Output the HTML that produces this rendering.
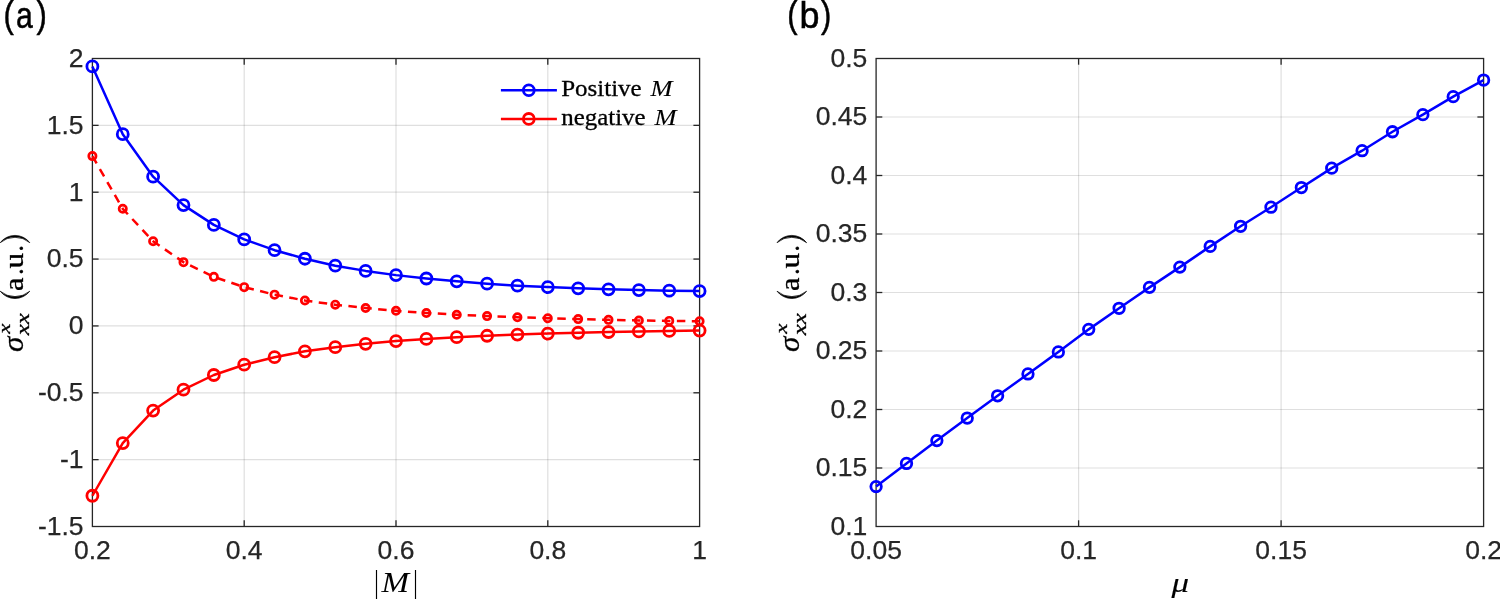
<!DOCTYPE html>
<html><head><meta charset="utf-8"><title>figure</title>
<style>html,body{margin:0;padding:0;background:#fff;}body{width:1500px;height:599px;overflow:hidden;}svg{display:block}.tk{font-family:"Liberation Sans",sans-serif;font-size:26.5px;fill:#262626;stroke:#262626;stroke-width:0.25px;}.pl{font-family:"Liberation Sans",sans-serif;font-size:36px;fill:#000;stroke:#000;stroke-width:0.5px;}.tx{font-family:"Liberation Serif",serif;fill:#000;stroke:#000;stroke-width:0.3px;}.lg{font-size:23.8px;}</style></head><body>
<svg width="1500" height="599" viewBox="0 0 1500 599">
<defs><filter id="noaa" x="0" y="0" width="1500" height="599" filterUnits="userSpaceOnUse"><feOffset dx="0" dy="0"/></filter></defs>
<g filter="url(#noaa)">
<line x1="244.20" y1="58.5" x2="244.20" y2="526.5" stroke="rgba(38,38,38,0.15)" stroke-width="1.2"/>
<line x1="396.00" y1="58.5" x2="396.00" y2="526.5" stroke="rgba(38,38,38,0.15)" stroke-width="1.2"/>
<line x1="547.80" y1="58.5" x2="547.80" y2="526.5" stroke="rgba(38,38,38,0.15)" stroke-width="1.2"/>
<line x1="92.4" y1="459.64" x2="699.6" y2="459.64" stroke="rgba(38,38,38,0.15)" stroke-width="1.2"/>
<line x1="92.4" y1="392.79" x2="699.6" y2="392.79" stroke="rgba(38,38,38,0.15)" stroke-width="1.2"/>
<line x1="92.4" y1="325.93" x2="699.6" y2="325.93" stroke="rgba(38,38,38,0.15)" stroke-width="1.2"/>
<line x1="92.4" y1="259.07" x2="699.6" y2="259.07" stroke="rgba(38,38,38,0.15)" stroke-width="1.2"/>
<line x1="92.4" y1="192.21" x2="699.6" y2="192.21" stroke="rgba(38,38,38,0.15)" stroke-width="1.2"/>
<line x1="92.4" y1="125.36" x2="699.6" y2="125.36" stroke="rgba(38,38,38,0.15)" stroke-width="1.2"/>
<rect x="92.4" y="58.5" width="607.20" height="468.0" fill="none" stroke="#262626" stroke-width="1.3"/>
<line x1="244.20" y1="526.5" x2="244.20" y2="520.3" stroke="#262626" stroke-width="1.3"/>
<line x1="244.20" y1="58.5" x2="244.20" y2="64.7" stroke="#262626" stroke-width="1.3"/>
<line x1="396.00" y1="526.5" x2="396.00" y2="520.3" stroke="#262626" stroke-width="1.3"/>
<line x1="396.00" y1="58.5" x2="396.00" y2="64.7" stroke="#262626" stroke-width="1.3"/>
<line x1="547.80" y1="526.5" x2="547.80" y2="520.3" stroke="#262626" stroke-width="1.3"/>
<line x1="547.80" y1="58.5" x2="547.80" y2="64.7" stroke="#262626" stroke-width="1.3"/>
<line x1="92.4" y1="459.64" x2="98.60000000000001" y2="459.64" stroke="#262626" stroke-width="1.3"/>
<line x1="699.6" y1="459.64" x2="693.4" y2="459.64" stroke="#262626" stroke-width="1.3"/>
<line x1="92.4" y1="392.79" x2="98.60000000000001" y2="392.79" stroke="#262626" stroke-width="1.3"/>
<line x1="699.6" y1="392.79" x2="693.4" y2="392.79" stroke="#262626" stroke-width="1.3"/>
<line x1="92.4" y1="325.93" x2="98.60000000000001" y2="325.93" stroke="#262626" stroke-width="1.3"/>
<line x1="699.6" y1="325.93" x2="693.4" y2="325.93" stroke="#262626" stroke-width="1.3"/>
<line x1="92.4" y1="259.07" x2="98.60000000000001" y2="259.07" stroke="#262626" stroke-width="1.3"/>
<line x1="699.6" y1="259.07" x2="693.4" y2="259.07" stroke="#262626" stroke-width="1.3"/>
<line x1="92.4" y1="192.21" x2="98.60000000000001" y2="192.21" stroke="#262626" stroke-width="1.3"/>
<line x1="699.6" y1="192.21" x2="693.4" y2="192.21" stroke="#262626" stroke-width="1.3"/>
<line x1="92.4" y1="125.36" x2="98.60000000000001" y2="125.36" stroke="#262626" stroke-width="1.3"/>
<line x1="699.6" y1="125.36" x2="693.4" y2="125.36" stroke="#262626" stroke-width="1.3"/>
<text class="tk" x="92.40" y="559.0" text-anchor="middle">0.2</text>
<text class="tk" x="244.20" y="559.0" text-anchor="middle">0.4</text>
<text class="tk" x="396.00" y="559.0" text-anchor="middle">0.6</text>
<text class="tk" x="547.80" y="559.0" text-anchor="middle">0.8</text>
<text class="tk" x="699.60" y="559.0" text-anchor="middle">1</text>
<text class="tk" x="83.60" y="534.90" text-anchor="end">-1.5</text>
<text class="tk" x="83.60" y="468.04" text-anchor="end">-1</text>
<text class="tk" x="83.60" y="401.19" text-anchor="end">-0.5</text>
<text class="tk" x="83.60" y="334.33" text-anchor="end">0</text>
<text class="tk" x="83.60" y="267.47" text-anchor="end">0.5</text>
<text class="tk" x="83.60" y="200.61" text-anchor="end">1</text>
<text class="tk" x="83.60" y="133.76" text-anchor="end">1.5</text>
<text class="tk" x="83.60" y="66.90" text-anchor="end">2</text>
<polyline points="92.40,66.39 122.76,134.18 153.12,176.70 183.48,205.09 213.84,224.89 244.20,239.39 274.56,250.19 304.92,258.74 335.28,265.69 365.64,270.89 396.00,275.12 426.36,278.50 456.72,281.31 487.08,283.70 517.44,285.69 547.80,287.10 578.16,288.30 608.52,289.29 638.88,290.09 669.24,290.69 699.60,291.10" fill="none" stroke="#0000ff" stroke-width="2.5" stroke-linejoin="round"/>
<circle cx="92.40" cy="66.39" r="5.5" fill="none" stroke="#0000ff" stroke-width="2.8"/>
<circle cx="122.76" cy="134.18" r="5.5" fill="none" stroke="#0000ff" stroke-width="2.8"/>
<circle cx="153.12" cy="176.70" r="5.5" fill="none" stroke="#0000ff" stroke-width="2.8"/>
<circle cx="183.48" cy="205.09" r="5.5" fill="none" stroke="#0000ff" stroke-width="2.8"/>
<circle cx="213.84" cy="224.89" r="5.5" fill="none" stroke="#0000ff" stroke-width="2.8"/>
<circle cx="244.20" cy="239.39" r="5.5" fill="none" stroke="#0000ff" stroke-width="2.8"/>
<circle cx="274.56" cy="250.19" r="5.5" fill="none" stroke="#0000ff" stroke-width="2.8"/>
<circle cx="304.92" cy="258.74" r="5.5" fill="none" stroke="#0000ff" stroke-width="2.8"/>
<circle cx="335.28" cy="265.69" r="5.5" fill="none" stroke="#0000ff" stroke-width="2.8"/>
<circle cx="365.64" cy="270.89" r="5.5" fill="none" stroke="#0000ff" stroke-width="2.8"/>
<circle cx="396.00" cy="275.12" r="5.5" fill="none" stroke="#0000ff" stroke-width="2.8"/>
<circle cx="426.36" cy="278.50" r="5.5" fill="none" stroke="#0000ff" stroke-width="2.8"/>
<circle cx="456.72" cy="281.31" r="5.5" fill="none" stroke="#0000ff" stroke-width="2.8"/>
<circle cx="487.08" cy="283.70" r="5.5" fill="none" stroke="#0000ff" stroke-width="2.8"/>
<circle cx="517.44" cy="285.69" r="5.5" fill="none" stroke="#0000ff" stroke-width="2.8"/>
<circle cx="547.80" cy="287.10" r="5.5" fill="none" stroke="#0000ff" stroke-width="2.8"/>
<circle cx="578.16" cy="288.30" r="5.5" fill="none" stroke="#0000ff" stroke-width="2.8"/>
<circle cx="608.52" cy="289.29" r="5.5" fill="none" stroke="#0000ff" stroke-width="2.8"/>
<circle cx="638.88" cy="290.09" r="5.5" fill="none" stroke="#0000ff" stroke-width="2.8"/>
<circle cx="669.24" cy="290.69" r="5.5" fill="none" stroke="#0000ff" stroke-width="2.8"/>
<circle cx="699.60" cy="291.10" r="5.5" fill="none" stroke="#0000ff" stroke-width="2.8"/>
<polyline points="92.40,156.11 122.76,208.79 153.12,241.29 183.48,262.15 213.84,276.86 244.20,287.15 274.56,294.64 304.92,300.52 335.28,304.67 365.64,308.01 396.00,310.82 426.36,312.96 456.72,314.70 487.08,316.10 517.44,317.26 547.80,318.27 578.16,319.11 608.52,319.84 638.88,320.45 669.24,320.91 699.60,321.30" fill="none" stroke="#ff0000" stroke-width="2.5" stroke-linejoin="round" stroke-dasharray="8.5 6.45"/>
<circle cx="92.40" cy="156.11" r="3.65" fill="none" stroke="#ff0000" stroke-width="2.7"/>
<circle cx="122.76" cy="208.79" r="3.65" fill="none" stroke="#ff0000" stroke-width="2.7"/>
<circle cx="153.12" cy="241.29" r="3.65" fill="none" stroke="#ff0000" stroke-width="2.7"/>
<circle cx="183.48" cy="262.15" r="3.65" fill="none" stroke="#ff0000" stroke-width="2.7"/>
<circle cx="213.84" cy="276.86" r="3.65" fill="none" stroke="#ff0000" stroke-width="2.7"/>
<circle cx="244.20" cy="287.15" r="3.65" fill="none" stroke="#ff0000" stroke-width="2.7"/>
<circle cx="274.56" cy="294.64" r="3.65" fill="none" stroke="#ff0000" stroke-width="2.7"/>
<circle cx="304.92" cy="300.52" r="3.65" fill="none" stroke="#ff0000" stroke-width="2.7"/>
<circle cx="335.28" cy="304.67" r="3.65" fill="none" stroke="#ff0000" stroke-width="2.7"/>
<circle cx="365.64" cy="308.01" r="3.65" fill="none" stroke="#ff0000" stroke-width="2.7"/>
<circle cx="396.00" cy="310.82" r="3.65" fill="none" stroke="#ff0000" stroke-width="2.7"/>
<circle cx="426.36" cy="312.96" r="3.65" fill="none" stroke="#ff0000" stroke-width="2.7"/>
<circle cx="456.72" cy="314.70" r="3.65" fill="none" stroke="#ff0000" stroke-width="2.7"/>
<circle cx="487.08" cy="316.10" r="3.65" fill="none" stroke="#ff0000" stroke-width="2.7"/>
<circle cx="517.44" cy="317.26" r="3.65" fill="none" stroke="#ff0000" stroke-width="2.7"/>
<circle cx="547.80" cy="318.27" r="3.65" fill="none" stroke="#ff0000" stroke-width="2.7"/>
<circle cx="578.16" cy="319.11" r="3.65" fill="none" stroke="#ff0000" stroke-width="2.7"/>
<circle cx="608.52" cy="319.84" r="3.65" fill="none" stroke="#ff0000" stroke-width="2.7"/>
<circle cx="638.88" cy="320.45" r="3.65" fill="none" stroke="#ff0000" stroke-width="2.7"/>
<circle cx="669.24" cy="320.91" r="3.65" fill="none" stroke="#ff0000" stroke-width="2.7"/>
<circle cx="699.60" cy="321.30" r="3.65" fill="none" stroke="#ff0000" stroke-width="2.7"/>
<polyline points="92.40,495.75 122.76,443.06 153.12,410.57 183.48,389.71 213.84,375.00 244.20,364.71 274.56,357.22 304.92,351.33 335.28,347.19 365.64,343.85 396.00,341.04 426.36,338.90 456.72,337.16 487.08,335.76 517.44,334.59 547.80,333.59 578.16,332.75 608.52,332.01 638.88,331.41 669.24,330.94 699.60,330.56" fill="none" stroke="#ff0000" stroke-width="2.5" stroke-linejoin="round"/>
<circle cx="92.40" cy="495.75" r="5.5" fill="none" stroke="#ff0000" stroke-width="2.8"/>
<circle cx="122.76" cy="443.06" r="5.5" fill="none" stroke="#ff0000" stroke-width="2.8"/>
<circle cx="153.12" cy="410.57" r="5.5" fill="none" stroke="#ff0000" stroke-width="2.8"/>
<circle cx="183.48" cy="389.71" r="5.5" fill="none" stroke="#ff0000" stroke-width="2.8"/>
<circle cx="213.84" cy="375.00" r="5.5" fill="none" stroke="#ff0000" stroke-width="2.8"/>
<circle cx="244.20" cy="364.71" r="5.5" fill="none" stroke="#ff0000" stroke-width="2.8"/>
<circle cx="274.56" cy="357.22" r="5.5" fill="none" stroke="#ff0000" stroke-width="2.8"/>
<circle cx="304.92" cy="351.33" r="5.5" fill="none" stroke="#ff0000" stroke-width="2.8"/>
<circle cx="335.28" cy="347.19" r="5.5" fill="none" stroke="#ff0000" stroke-width="2.8"/>
<circle cx="365.64" cy="343.85" r="5.5" fill="none" stroke="#ff0000" stroke-width="2.8"/>
<circle cx="396.00" cy="341.04" r="5.5" fill="none" stroke="#ff0000" stroke-width="2.8"/>
<circle cx="426.36" cy="338.90" r="5.5" fill="none" stroke="#ff0000" stroke-width="2.8"/>
<circle cx="456.72" cy="337.16" r="5.5" fill="none" stroke="#ff0000" stroke-width="2.8"/>
<circle cx="487.08" cy="335.76" r="5.5" fill="none" stroke="#ff0000" stroke-width="2.8"/>
<circle cx="517.44" cy="334.59" r="5.5" fill="none" stroke="#ff0000" stroke-width="2.8"/>
<circle cx="547.80" cy="333.59" r="5.5" fill="none" stroke="#ff0000" stroke-width="2.8"/>
<circle cx="578.16" cy="332.75" r="5.5" fill="none" stroke="#ff0000" stroke-width="2.8"/>
<circle cx="608.52" cy="332.01" r="5.5" fill="none" stroke="#ff0000" stroke-width="2.8"/>
<circle cx="638.88" cy="331.41" r="5.5" fill="none" stroke="#ff0000" stroke-width="2.8"/>
<circle cx="669.24" cy="330.94" r="5.5" fill="none" stroke="#ff0000" stroke-width="2.8"/>
<circle cx="699.60" cy="330.56" r="5.5" fill="none" stroke="#ff0000" stroke-width="2.8"/>
<line x1="500.9" y1="90.2" x2="556.9" y2="90.2" stroke="#0000ff" stroke-width="2.5"/>
<circle cx="528.8" cy="90.2" r="5.4" fill="none" stroke="#0000ff" stroke-width="2.8"/>
<line x1="500.9" y1="118.9" x2="556.9" y2="118.9" stroke="#ff0000" stroke-width="2.5"/>
<circle cx="528.8" cy="118.9" r="5.4" fill="none" stroke="#ff0000" stroke-width="2.8"/>
<text class="tx lg" x="561.2" y="95.5" textLength="80.5" lengthAdjust="spacingAndGlyphs">Positive</text>
<text class="tx lg" x="650.6" y="95.5" font-style="italic" textLength="22.0" lengthAdjust="spacingAndGlyphs" style="stroke-width:0.1px">M</text>
<text class="tx lg" x="561.2" y="124.5" textLength="84.4" lengthAdjust="spacingAndGlyphs">negative</text>
<text class="tx lg" x="654.4" y="124.5" font-style="italic" textLength="22.0" lengthAdjust="spacingAndGlyphs" style="stroke-width:0.1px">M</text>
<line x1="1078.60" y1="58.5" x2="1078.60" y2="526.5" stroke="rgba(38,38,38,0.15)" stroke-width="1.2"/>
<line x1="1281.10" y1="58.5" x2="1281.10" y2="526.5" stroke="rgba(38,38,38,0.15)" stroke-width="1.2"/>
<line x1="876.1" y1="468.00" x2="1483.6" y2="468.00" stroke="rgba(38,38,38,0.15)" stroke-width="1.2"/>
<line x1="876.1" y1="409.50" x2="1483.6" y2="409.50" stroke="rgba(38,38,38,0.15)" stroke-width="1.2"/>
<line x1="876.1" y1="351.00" x2="1483.6" y2="351.00" stroke="rgba(38,38,38,0.15)" stroke-width="1.2"/>
<line x1="876.1" y1="292.50" x2="1483.6" y2="292.50" stroke="rgba(38,38,38,0.15)" stroke-width="1.2"/>
<line x1="876.1" y1="234.00" x2="1483.6" y2="234.00" stroke="rgba(38,38,38,0.15)" stroke-width="1.2"/>
<line x1="876.1" y1="175.50" x2="1483.6" y2="175.50" stroke="rgba(38,38,38,0.15)" stroke-width="1.2"/>
<line x1="876.1" y1="117.00" x2="1483.6" y2="117.00" stroke="rgba(38,38,38,0.15)" stroke-width="1.2"/>
<rect x="876.1" y="58.5" width="607.50" height="468.0" fill="none" stroke="#262626" stroke-width="1.3"/>
<line x1="1078.60" y1="526.5" x2="1078.60" y2="520.3" stroke="#262626" stroke-width="1.3"/>
<line x1="1078.60" y1="58.5" x2="1078.60" y2="64.7" stroke="#262626" stroke-width="1.3"/>
<line x1="1281.10" y1="526.5" x2="1281.10" y2="520.3" stroke="#262626" stroke-width="1.3"/>
<line x1="1281.10" y1="58.5" x2="1281.10" y2="64.7" stroke="#262626" stroke-width="1.3"/>
<line x1="876.1" y1="468.00" x2="882.3000000000001" y2="468.00" stroke="#262626" stroke-width="1.3"/>
<line x1="1483.6" y1="468.00" x2="1477.3999999999999" y2="468.00" stroke="#262626" stroke-width="1.3"/>
<line x1="876.1" y1="409.50" x2="882.3000000000001" y2="409.50" stroke="#262626" stroke-width="1.3"/>
<line x1="1483.6" y1="409.50" x2="1477.3999999999999" y2="409.50" stroke="#262626" stroke-width="1.3"/>
<line x1="876.1" y1="351.00" x2="882.3000000000001" y2="351.00" stroke="#262626" stroke-width="1.3"/>
<line x1="1483.6" y1="351.00" x2="1477.3999999999999" y2="351.00" stroke="#262626" stroke-width="1.3"/>
<line x1="876.1" y1="292.50" x2="882.3000000000001" y2="292.50" stroke="#262626" stroke-width="1.3"/>
<line x1="1483.6" y1="292.50" x2="1477.3999999999999" y2="292.50" stroke="#262626" stroke-width="1.3"/>
<line x1="876.1" y1="234.00" x2="882.3000000000001" y2="234.00" stroke="#262626" stroke-width="1.3"/>
<line x1="1483.6" y1="234.00" x2="1477.3999999999999" y2="234.00" stroke="#262626" stroke-width="1.3"/>
<line x1="876.1" y1="175.50" x2="882.3000000000001" y2="175.50" stroke="#262626" stroke-width="1.3"/>
<line x1="1483.6" y1="175.50" x2="1477.3999999999999" y2="175.50" stroke="#262626" stroke-width="1.3"/>
<line x1="876.1" y1="117.00" x2="882.3000000000001" y2="117.00" stroke="#262626" stroke-width="1.3"/>
<line x1="1483.6" y1="117.00" x2="1477.3999999999999" y2="117.00" stroke="#262626" stroke-width="1.3"/>
<text class="tk" x="876.10" y="559.0" text-anchor="middle">0.05</text>
<text class="tk" x="1078.60" y="559.0" text-anchor="middle">0.1</text>
<text class="tk" x="1281.10" y="559.0" text-anchor="middle">0.15</text>
<text class="tk" x="1483.60" y="559.0" text-anchor="middle">0.2</text>
<text class="tk" x="867.30" y="534.90" text-anchor="end">0.1</text>
<text class="tk" x="867.30" y="476.40" text-anchor="end">0.15</text>
<text class="tk" x="867.30" y="417.90" text-anchor="end">0.2</text>
<text class="tk" x="867.30" y="359.40" text-anchor="end">0.25</text>
<text class="tk" x="867.30" y="300.90" text-anchor="end">0.3</text>
<text class="tk" x="867.30" y="242.40" text-anchor="end">0.35</text>
<text class="tk" x="867.30" y="183.90" text-anchor="end">0.4</text>
<text class="tk" x="867.30" y="125.40" text-anchor="end">0.45</text>
<text class="tk" x="867.30" y="66.90" text-anchor="end">0.5</text>
<polyline points="876.10,486.60 906.48,463.44 936.85,440.62 967.23,418.04 997.60,395.81 1027.97,373.93 1058.35,351.94 1088.72,329.36 1119.10,308.30 1149.47,287.35 1179.85,267.11 1210.22,246.40 1240.60,226.28 1270.97,207.21 1301.35,187.55 1331.72,168.13 1362.10,150.70 1392.47,131.74 1422.85,114.66 1453.22,96.64 1483.60,80.03" fill="none" stroke="#0000ff" stroke-width="2.5" stroke-linejoin="round"/>
<circle cx="876.10" cy="486.60" r="5.25" fill="none" stroke="#0000ff" stroke-width="2.8"/>
<circle cx="906.48" cy="463.44" r="5.25" fill="none" stroke="#0000ff" stroke-width="2.8"/>
<circle cx="936.85" cy="440.62" r="5.25" fill="none" stroke="#0000ff" stroke-width="2.8"/>
<circle cx="967.23" cy="418.04" r="5.25" fill="none" stroke="#0000ff" stroke-width="2.8"/>
<circle cx="997.60" cy="395.81" r="5.25" fill="none" stroke="#0000ff" stroke-width="2.8"/>
<circle cx="1027.97" cy="373.93" r="5.25" fill="none" stroke="#0000ff" stroke-width="2.8"/>
<circle cx="1058.35" cy="351.94" r="5.25" fill="none" stroke="#0000ff" stroke-width="2.8"/>
<circle cx="1088.72" cy="329.36" r="5.25" fill="none" stroke="#0000ff" stroke-width="2.8"/>
<circle cx="1119.10" cy="308.30" r="5.25" fill="none" stroke="#0000ff" stroke-width="2.8"/>
<circle cx="1149.47" cy="287.35" r="5.25" fill="none" stroke="#0000ff" stroke-width="2.8"/>
<circle cx="1179.85" cy="267.11" r="5.25" fill="none" stroke="#0000ff" stroke-width="2.8"/>
<circle cx="1210.22" cy="246.40" r="5.25" fill="none" stroke="#0000ff" stroke-width="2.8"/>
<circle cx="1240.60" cy="226.28" r="5.25" fill="none" stroke="#0000ff" stroke-width="2.8"/>
<circle cx="1270.97" cy="207.21" r="5.25" fill="none" stroke="#0000ff" stroke-width="2.8"/>
<circle cx="1301.35" cy="187.55" r="5.25" fill="none" stroke="#0000ff" stroke-width="2.8"/>
<circle cx="1331.72" cy="168.13" r="5.25" fill="none" stroke="#0000ff" stroke-width="2.8"/>
<circle cx="1362.10" cy="150.70" r="5.25" fill="none" stroke="#0000ff" stroke-width="2.8"/>
<circle cx="1392.47" cy="131.74" r="5.25" fill="none" stroke="#0000ff" stroke-width="2.8"/>
<circle cx="1422.85" cy="114.66" r="5.25" fill="none" stroke="#0000ff" stroke-width="2.8"/>
<circle cx="1453.22" cy="96.64" r="5.25" fill="none" stroke="#0000ff" stroke-width="2.8"/>
<circle cx="1483.60" cy="80.03" r="5.25" fill="none" stroke="#0000ff" stroke-width="2.8"/>
<g transform="translate(22.5,351.1) rotate(-90)">
<text class="tx" x="-0.8" y="0" font-size="28.5" font-style="italic" textLength="15.3" lengthAdjust="spacingAndGlyphs">σ</text>
<text class="tx" x="17.3" y="-12.4" font-size="17.5" font-style="italic" textLength="10.2" lengthAdjust="spacingAndGlyphs">x</text>
<text class="tx" x="15.8" y="6.2" font-size="18.5" font-style="italic" textLength="22.2" lengthAdjust="spacingAndGlyphs">xx</text>
<g font-size="27.5" style="stroke-width:0.15px">
<text class="tx" x="60.1" y="0" textLength="13.4" lengthAdjust="spacingAndGlyphs">a</text>
<text class="tx" x="76.2" y="0">.</text>
<text class="tx" x="82.6" y="0" textLength="15.6" lengthAdjust="spacingAndGlyphs">u</text>
<text class="tx" x="99.4" y="0">.</text>
</g>
<path d="M59.9,-22.3 A18.65,18.65 0 0 0 59.9,7.3 A23,23 0 0 1 59.9,-22.3 Z" fill="#000" stroke="#000" stroke-width="0.7" stroke-linejoin="round"/>
<path d="M108.4,-22.3 A18.65,18.65 0 0 1 108.4,7.3 A23,23 0 0 0 108.4,-22.3 Z" fill="#000" stroke="#000" stroke-width="0.7" stroke-linejoin="round"/>
</g>
<g transform="translate(799.3,351.1) rotate(-90)">
<text class="tx" x="-0.8" y="0" font-size="28.5" font-style="italic" textLength="15.3" lengthAdjust="spacingAndGlyphs">σ</text>
<text class="tx" x="17.3" y="-12.4" font-size="17.5" font-style="italic" textLength="10.2" lengthAdjust="spacingAndGlyphs">x</text>
<text class="tx" x="15.8" y="6.2" font-size="18.5" font-style="italic" textLength="22.2" lengthAdjust="spacingAndGlyphs">xx</text>
<g font-size="27.5" style="stroke-width:0.15px">
<text class="tx" x="60.1" y="0" textLength="13.4" lengthAdjust="spacingAndGlyphs">a</text>
<text class="tx" x="76.2" y="0">.</text>
<text class="tx" x="82.6" y="0" textLength="15.6" lengthAdjust="spacingAndGlyphs">u</text>
<text class="tx" x="99.4" y="0">.</text>
</g>
<path d="M59.9,-22.3 A18.65,18.65 0 0 0 59.9,7.3 A23,23 0 0 1 59.9,-22.3 Z" fill="#000" stroke="#000" stroke-width="0.7" stroke-linejoin="round"/>
<path d="M108.4,-22.3 A18.65,18.65 0 0 1 108.4,7.3 A23,23 0 0 0 108.4,-22.3 Z" fill="#000" stroke="#000" stroke-width="0.7" stroke-linejoin="round"/>
</g>
<text class="tx" x="381.6" y="591.7" font-size="30" font-style="italic" textLength="27.6" lengthAdjust="spacingAndGlyphs" style="stroke:none">M</text>
<line x1="376.5" y1="570" x2="376.5" y2="599" stroke="#000" stroke-width="1.15"/>
<line x1="415.5" y1="570" x2="415.5" y2="599" stroke="#000" stroke-width="1.15"/>
<text class="tx" x="1171.4" y="591.6" font-size="27" font-style="italic" textLength="17.6" lengthAdjust="spacingAndGlyphs" style="stroke-width:0.1px">μ</text>
<text class="pl" x="3.4" y="26.8" font-size="38" textLength="10.3" lengthAdjust="spacingAndGlyphs">(</text>
<text class="pl" x="15.9" y="28.4" textLength="16.8" lengthAdjust="spacingAndGlyphs">a</text>
<text class="pl" x="36.5" y="26.8" font-size="38" textLength="10.3" lengthAdjust="spacingAndGlyphs">)</text>
<text class="pl" x="787.3" y="26.8" font-size="38" textLength="10.3" lengthAdjust="spacingAndGlyphs">(</text>
<text class="pl" x="799.5" y="28.4" textLength="20.0" lengthAdjust="spacingAndGlyphs">b</text>
<text class="pl" x="821.0" y="26.8" font-size="38" textLength="10.3" lengthAdjust="spacingAndGlyphs">)</text>
</g></svg></body></html>
